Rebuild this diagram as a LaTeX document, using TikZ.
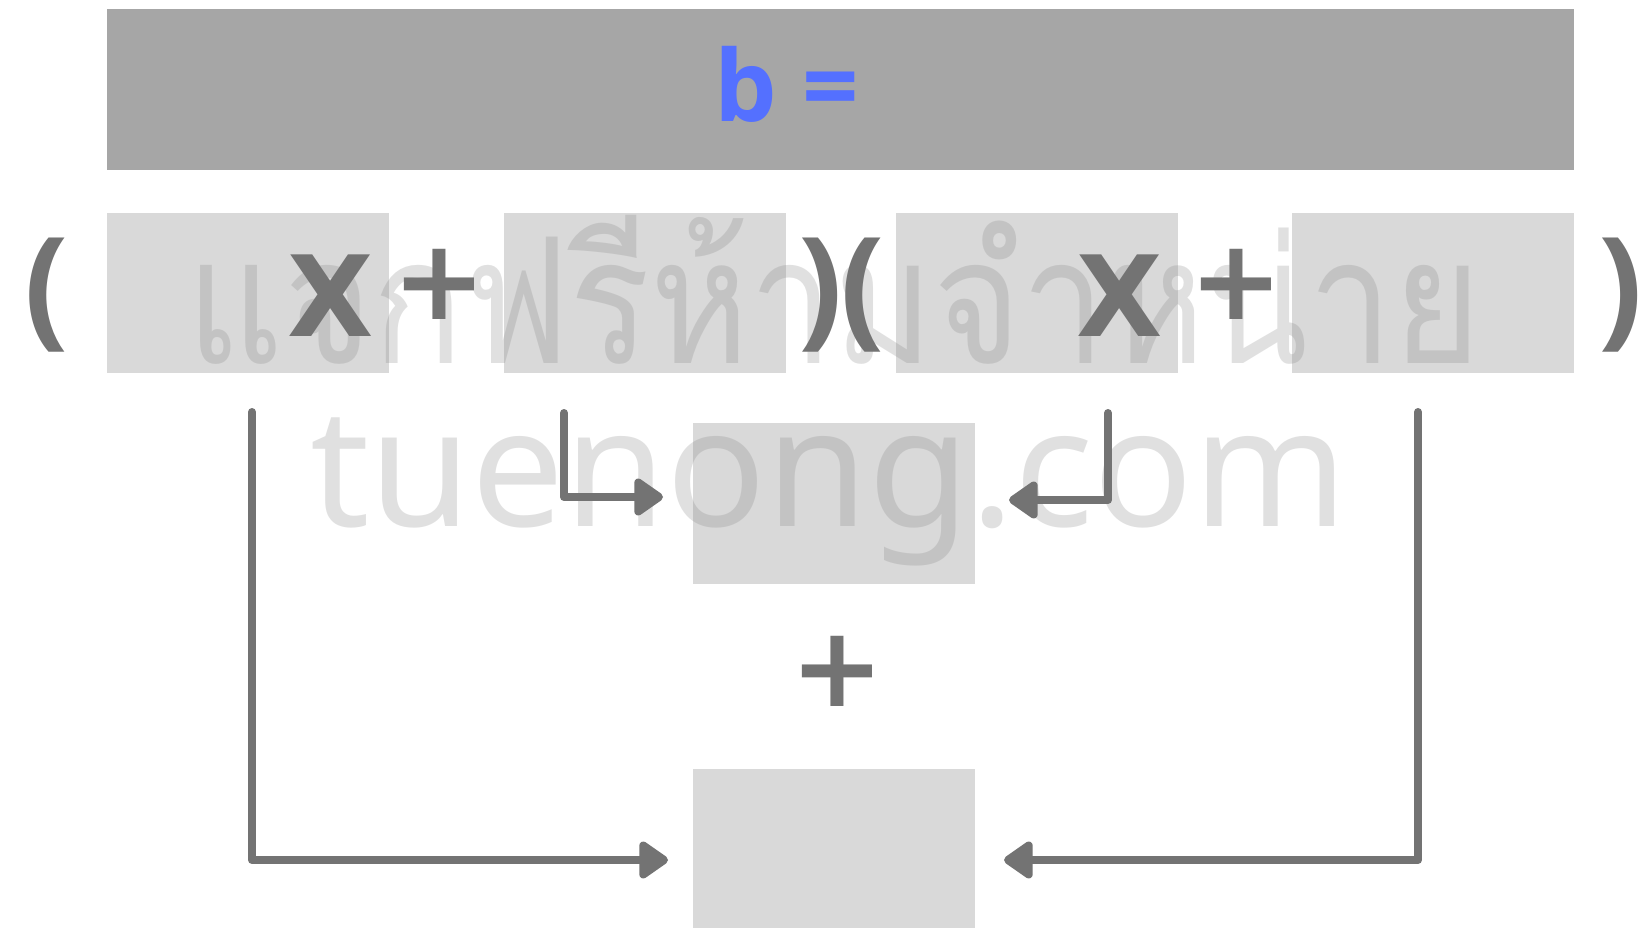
\documentclass[tikz,border=0pt]{standalone}
\usepackage{fontspec}
\setmainfont{Open Sans}
\newfontfamily\thaifont[Script=Thai]{Loma}
\newfontfamily\djv{DejaVu Sans}
\newfontfamily\osans{Open Sans}
\newfontfamily\nsans{Noto Sans}
\usetikzlibrary{arrows.meta}
\definecolor{topgray}{HTML}{A6A6A6}
\definecolor{boxgray}{HTML}{D9D9D9}
\definecolor{ink}{HTML}{737373}
\definecolor{bblue}{HTML}{5470FF}
\definecolor{wm}{RGB}{128,128,128}
\begin{document}
\begin{tikzpicture}[x=1pt,y=-1pt,
  box/.style={fill=boxgray, draw=none, minimum width=282pt, minimum height=160pt, inner sep=0pt, outer sep=0pt, anchor=north west},
  sym/.style={text=ink, font=\fontsize{112}{112}\selectfont\djv\bfseries, inner sep=0pt},
  paren/.style={text=ink, font=\fontsize{131}{131}\selectfont\osans\bfseries, inner sep=0pt},
  arr/.style={draw=ink, line width=8pt, line cap=round, line join=round, -{Triangle[length=32pt,width=42pt,round]}},
  wmark/.style={text=wm, opacity=0.24, inner sep=0pt}
]
\useasboundingbox (0,0) rectangle (1644,928);
\fill[white] (0,0) rectangle (1644,928);
% top bar
\node[box, fill=topgray, minimum width=1467pt, minimum height=161pt] (top) at (107,9) {};
\node[text=bblue, font=\fontsize{99}{99}\selectfont\osans\bfseries, inner sep=0pt, anchor=base west] (beq) at (714,122) {b =};
% row of boxes
\node[box] (b1) at (107,213) {};
\node[box] (b2) at (504,213) {};
\node[box] (b3) at (896,213) {};
\node[box] (b4) at (1292,213) {};
% centre and result boxes
\node[box, minimum height=161pt] (mid) at (693,423) {};
\node[box, minimum height=161pt] (res) at (693,769) {};
% watermark
\node[wmark, font=\fontsize{175}{175}\selectfont\thaifont, anchor=base] (wm1) at (834,363) {\scalebox{0.86}[1]{แจกฟรีห้ามจำหน่าย}};
\node[wmark, font=\fontsize{165}{165}\selectfont\nsans, anchor=base] (wm2) at (829,526) {tuenong.com};
% symbols
\node[paren] (p1) at (47,295.5) {(};
\node[paren] (p2) at (821,295.5) {)};
\node[paren] (p3) at (863,295.5) {(};
\node[paren] (p4) at (1620.5,295.5) {)};
\node[sym] (x1) at (331,296) {X};
\node[sym] (pl1) at (439.5,284) {+};
\node[sym] (x2) at (1119.5,296) {X};
\node[sym] (pl2) at (1236.5,284) {+};
\node[sym] (pl3) at (837.5,671.5) {+};
% arrows
\coordinate (s1) at (252,412);
\coordinate (e1) at (668,860);
\coordinate (s2) at (564,413);
\coordinate (e2) at (663,497);
\coordinate (s3) at (1108,413);
\coordinate (e3) at (1009,500);
\coordinate (s4) at (1418,412);
\coordinate (e4) at (1004,860);
\draw[arr] (s1) |- (e1);
\draw[arr] (s2) |- (e2);
\draw[arr] (s3) |- (e3);
\draw[arr] (s4) |- (e4);
\end{tikzpicture}
\end{document}
